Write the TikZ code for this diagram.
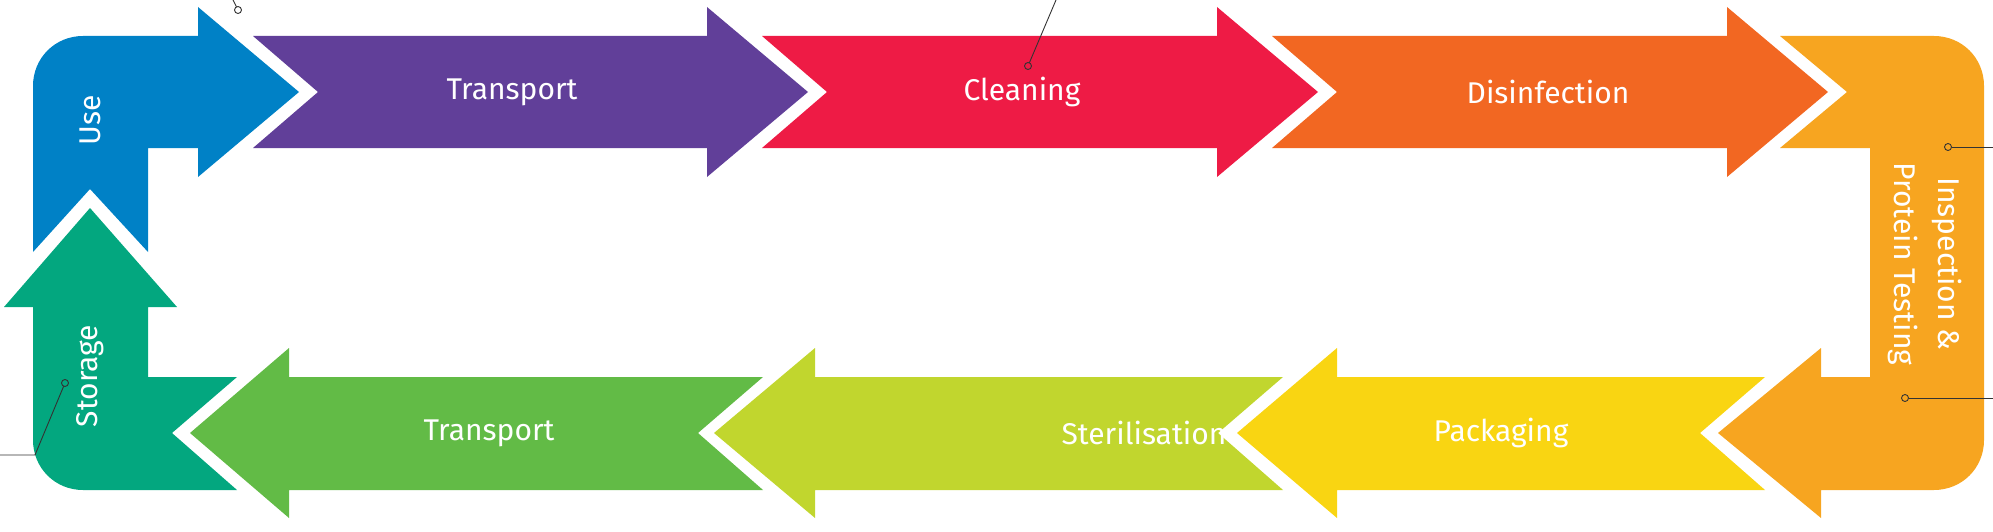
\documentclass[tikz,border=0pt]{standalone}
\usepackage{fontspec}
\setmainfont{Fira Sans}
\usetikzlibrary{calc}
\definecolor{cBlue}{HTML}{0081C6}
\definecolor{cPurple}{HTML}{613F99}
\definecolor{cRed}{HTML}{EE1B45}
\definecolor{cOrange}{HTML}{F26722}
\definecolor{cAmber}{HTML}{F7A520}
\definecolor{cYellow}{HTML}{F9D512}
\definecolor{cLime}{HTML}{C1D62E}
\definecolor{cGreen}{HTML}{62BB46}
\definecolor{cTeal}{HTML}{03A77F}
\definecolor{cLead}{HTML}{333333}
\tikzset{
  lbl/.style={text=white,font=\fontsize{30}{34}\selectfont,inner sep=0pt},
  lead/.style={draw=cLead,line width=0.9pt},
  leaddot/.style={draw=cLead,line width=0.9pt,fill=none},
}
\newcommand{\toparrow}[4]{\fill[#4] (#1,36) -- (#2,36) -- (#2,7) -- (#3,92) -- (#2,177) -- (#2,148) -- (#1,148) -- ({#1+65},92) -- cycle;}
\newcommand{\botarrow}[4]{\fill[#4] (#1,377) -- (#2,377) -- (#2,348) -- (#3,433) -- (#2,518) -- (#2,490) -- (#1,490) -- ({#1-65},433) -- cycle;}
\begin{document}
\begin{tikzpicture}[x=1pt,y=-1pt]
\useasboundingbox (0,0) rectangle (1993,532);
% Use
\fill[cBlue] (33,252) -- (33,86) .. controls (33,58) and (55,36) .. (83,36) -- (198,36) -- (198,7) -- (299,92) -- (198,177) -- (198,148) -- (148,148) -- (148,252) -- (90,189) -- cycle;
% Storage
\fill[cTeal] (90,208) -- (177,307) -- (148,307) -- (148,377) -- (237,377) -- (172,433) -- (237,490) -- (83,490) .. controls (55,490) and (33,468) .. (33,440) -- (33,307) -- (4,307) -- cycle;
% Inspection
\fill[cAmber] (1780,36) -- (1934,36) .. controls (1962,36) and (1984,58) .. (1984,86) -- (1984,440) .. controls (1984,468) and (1962,490) .. (1934,490) -- (1821,490) -- (1821,518) -- (1718,433) -- (1821,348) -- (1821,377) -- (1870,377) -- (1870,148) -- (1780,148) -- (1847,92) -- cycle;
\toparrow{253}{707}{808}{cPurple}
\toparrow{762}{1217}{1318}{cRed}
\toparrow{1272}{1727}{1828}{cOrange}
\botarrow{1765}{1337}{1237}{cYellow}
\botarrow{1283}{815}{714}{cLime}
\botarrow{763}{289}{190}{cGreen}
% labels
\node[lbl,rotate=90] (use) at (90,120) {Use};
\node[lbl,rotate=90] (storage) at (90,376) {Storage};
\node[lbl] (t1) at (512,92) {Transport};
\node[lbl] (clean) at (1022,92) {Cleaning};
\node[lbl] (dis) at (1548,92) {Disinfection};
\node[lbl] (t2) at (489,433) {Transport};
\node[lbl] (ster) at (1144,433) {Sterilisation};
\node[lbl] (pack) at (1501,433) {Packaging};
\node[lbl,rotate=-90,align=center,font=\fontsize{30}{44}\selectfont] (insp) at (1925,264) {Inspection \&\\Protein Testing};
% leaders
\coordinate (d1) at (238,10); \coordinate (e1) at (233,0);
\coordinate (d2) at (1028,66); \coordinate (e2) at (1056,0);
\coordinate (d3) at (1948,147); \coordinate (e3) at (1993,147);
\coordinate (d4) at (1905,398); \coordinate (e4) at (1993,398);
\coordinate (d5) at (65,383); \coordinate (k5) at (35,455); \coordinate (e5) at (0,455);
\draw[lead] (e1) -- ($(d1)!3.5pt!(e1)$);
\draw[lead] (e2) -- ($(d2)!3.5pt!(e2)$);
\draw[lead] (e3) -- ($(d3)!3.5pt!(e3)$);
\draw[lead] (e4) -- ($(d4)!3.5pt!(e4)$);
\draw[lead] (e5) -- (k5) -- ($(d5)!3.5pt!(k5)$);
\foreach \d in {d1,d2,d3,d4,d5} \draw[leaddot] (\d) circle (3.5pt);
\end{tikzpicture}
\end{document}
